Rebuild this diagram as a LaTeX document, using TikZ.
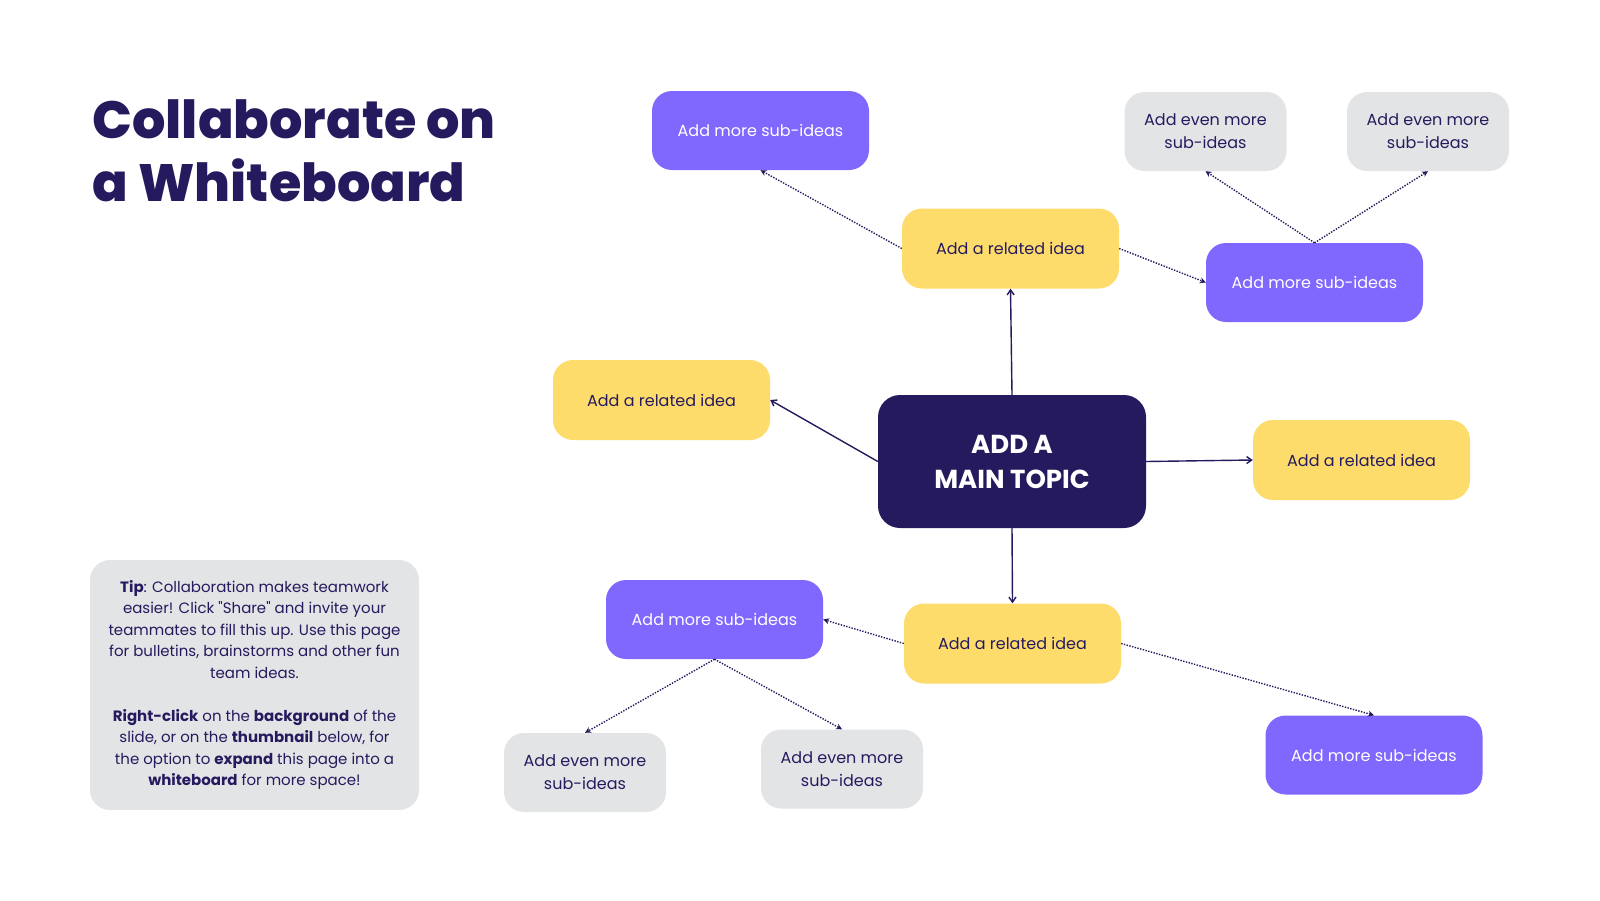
\documentclass[tikz,border=0pt]{standalone}
\usepackage{fontspec}
\setmainfont{Poppins}
\newfontfamily\headfont{Poppins ExtraBold}
\usetikzlibrary{arrows.meta}
\definecolor{navy}{HTML}{261A5E}
\definecolor{violet}{HTML}{8067FE}
\definecolor{sun}{HTML}{FDDC6B}
\definecolor{mist}{HTML}{E3E4E6}
\begin{document}
\begin{tikzpicture}[x=1pt, y=-1pt,
    box/.style={rounded corners=20pt, inner sep=0pt, align=center,
        font=\fontsize{16}{23}\selectfont},
    related/.style={box, fill=sun, text=navy, minimum width=217pt, minimum height=80pt},
    subidea/.style={box, fill=violet, text=white, minimum width=217pt, minimum height=79pt},
    evenmore/.style={box, fill=mist, text=navy, minimum width=162pt, minimum height=79pt},
    maintopic/.style={box, fill=navy, text=white, rounded corners=22pt,
        minimum width=268pt, minimum height=133pt,
        font=\fontsize{26}{35}\selectfont\bfseries},
    link/.style={navy, line width=1.4pt, -{Straight Barb[length=5pt,width=7pt]}},
    sublink/.style={navy, line width=1.4pt, dash pattern=on 1.4pt off 1.4pt,
        -{Stealth[length=6pt,width=6pt]}}]
    \useasboundingbox (0,0) rectangle (1600,900);

    \node[anchor=north west, align=left, text=navy,
        font=\fontsize{52.5}{63}\headfont] (title) at (89,96) {Collaborate on\\a Whiteboard};

    \node[box, fill=mist, text=navy, minimum width=329pt, minimum height=250pt,
        font=\fontsize{15}{21.5}\selectfont] (tip) at (254.5,685)
        {\textbf{Tip}: Collaboration makes teamwork\\easier! Click {\addfontfeatures{Ligatures=TeXOff}"Share"} and invite your\\teammates to fill this up. Use this page\\for bulletins, brainstorms and other fun\\team ideas.\\[21.5pt]
        \textbf{Right-click} on the \textbf{background} of the\\slide, or on the \textbf{thumbnail} below, for\\the option to \textbf{expand} this page into a\\\textbf{whiteboard} for more space!};

    \node[maintopic] (main) at (1012,461.5) {ADD A\\MAIN TOPIC};

    \node[related] (top) at (1010.5,248.5) {Add a related idea};
    \node[related] (left) at (661.5,400) {Add a related idea};
    \node[related] (right) at (1361.5,460) {Add a related idea};
    \node[related] (bottom) at (1012.5,643.5) {Add a related idea};

    \node[subidea] (topleft) at (760.5,130.5) {Add more sub-ideas};
    \node[subidea] (topright) at (1314.5,282.5) {Add more sub-ideas};
    \node[subidea] (botleft) at (714.5,619.5) {Add more sub-ideas};
    \node[subidea] (botright) at (1374,755) {Add more sub-ideas};

    \node[evenmore] (e1) at (1205.5,131.5) {Add even more\\sub-ideas};
    \node[evenmore] (e2) at (1428,131.5) {Add even more\\sub-ideas};
    \node[evenmore] (e3) at (585,772.5) {Add even more\\sub-ideas};
    \node[evenmore] (e4) at (842,769) {Add even more\\sub-ideas};

    % main topic to related ideas
    \draw[link] (main.north) -- (top.south);
    \draw[link] (main.west) -- (left.east);
    \draw[link] (main.east) -- (right.west);
    \draw[link] (main.south) -- (bottom.north);

    % related ideas to sub-ideas
    \draw[sublink] (top.west) -- (topleft.south);
    \draw[sublink] (top.east) -- (topright.west);
    \draw[sublink] (bottom.west) -- (botleft.east);
    \draw[sublink] (bottom.east) -- (botright.north);

    % sub-ideas to even more
    \draw[sublink] (topright.north) -- (e1.south);
    \draw[sublink] (topright.north) -- (e2.south);
    \draw[sublink] (botleft.south) -- (e3.north);
    \draw[sublink] (botleft.south) -- (e4.north);
\end{tikzpicture}
\end{document}
